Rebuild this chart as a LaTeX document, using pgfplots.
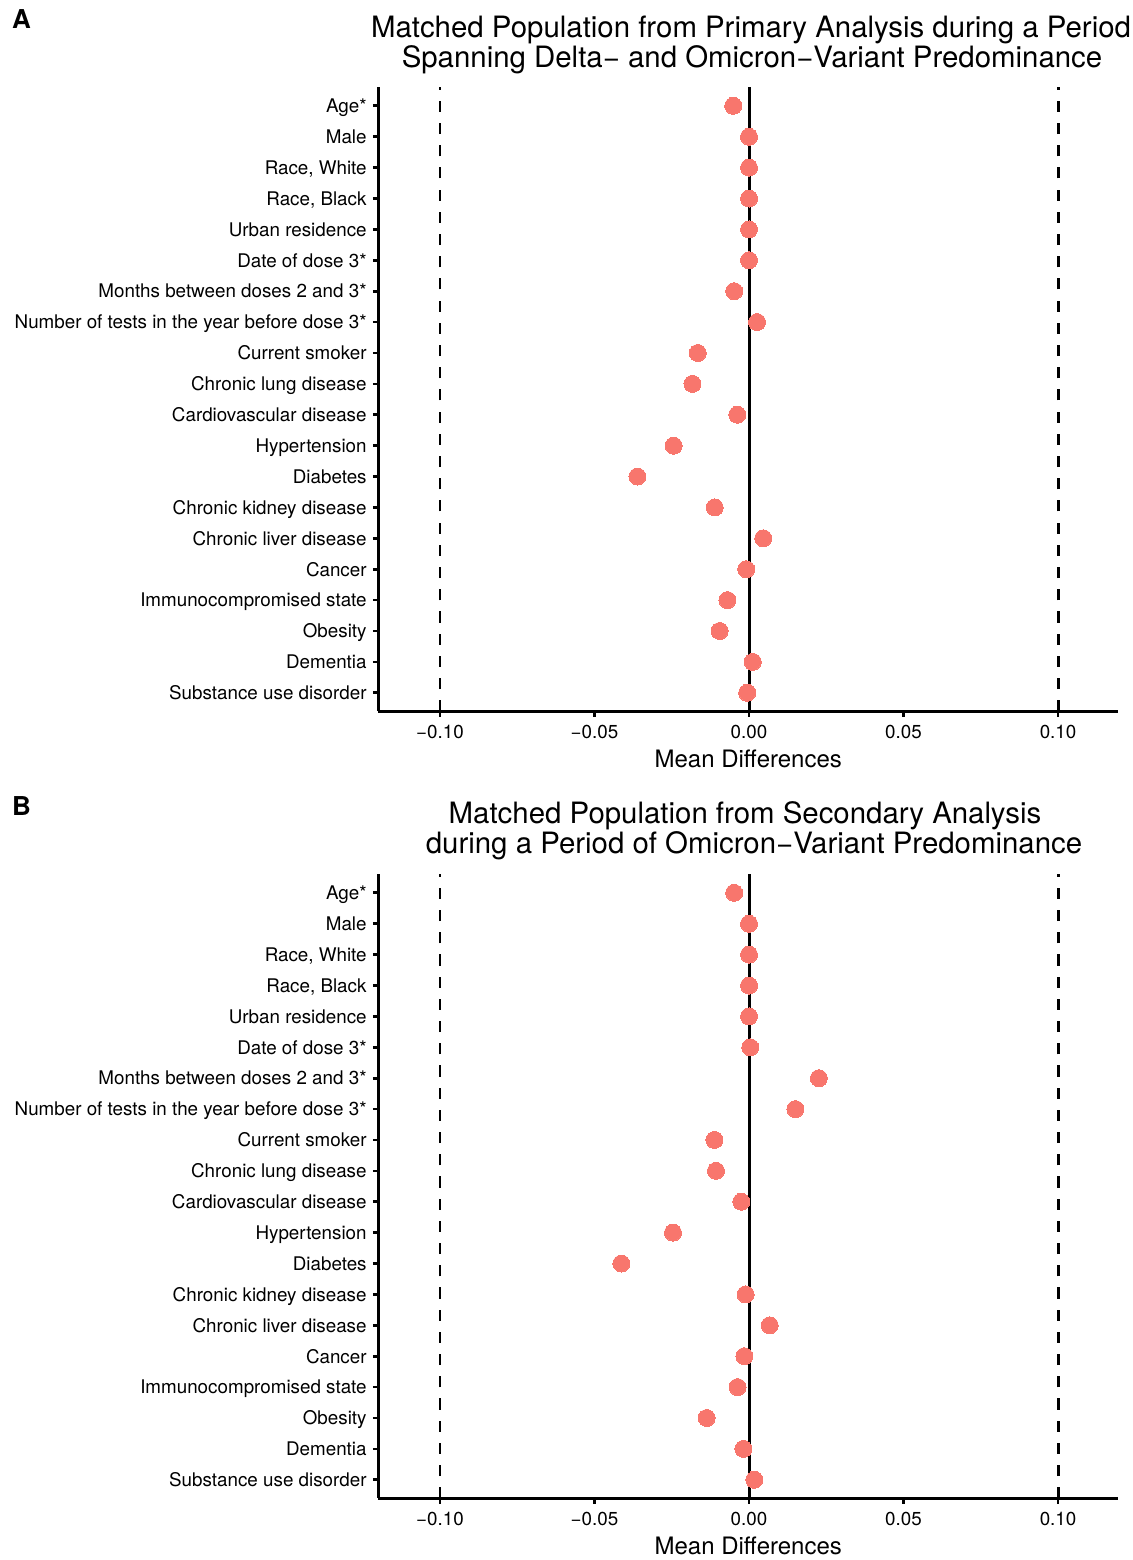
\documentclass[border=0pt]{standalone}
\usepackage{fontspec}
\setmainfont{TeX Gyre Heros}
\usepackage{pgfplots}
\usepackage{pgfplotstable}
\pgfplotsset{compat=1.18}
\definecolor{salmon}{HTML}{F8766D}

\pgfplotstableread{
idx diff
1 -0.0051
2 0.0000
3 0.0000
4 0.0000
5 0.0000
6 0.0000
7 -0.0048
8 0.0026
9 -0.0166
10 -0.0183
11 -0.0038
12 -0.0244
13 -0.0361
14 -0.0111
15 0.0046
16 -0.0009
17 -0.0070
18 -0.0095
19 0.0012
20 -0.0006
}\dataA

\pgfplotstableread{
idx diff
1 -0.0048
2 0.0000
3 0.0000
4 0.0000
5 0.0000
6 0.0004
7 0.0226
8 0.0150
9 -0.0112
10 -0.0107
11 -0.0025
12 -0.0246
13 -0.0413
14 -0.0011
15 0.0067
16 -0.0015
17 -0.0037
18 -0.0137
19 -0.0018
20 0.0017
}\dataB

\pgfplotsset{
  panel/.style={
    scale only axis, width=369.75pt, height=312pt,
    anchor=south west,
    xmin=-0.1199, xmax=0.1194, ymin=0.4, ymax=20.6, y dir=reverse,
    axis x line*=bottom, axis y line*=left,
    axis line style={line width=1.35pt, black, -},
    every tick/.style={line width=1.35pt, black},
    tick align=outside, major tick length=2.75pt,
    xtick={-0.1,-0.05,0,0.05,0.1},
    xticklabels={−0.10,−0.05,0.00,0.05,0.10},
    ytick={1,...,20},
    yticklabels={Age*,Male,{Race, White},{Race, Black},Urban residence,Date of dose 3*,Months between doses 2 and 3*,Number of tests in the year before dose 3*,Current smoker,Chronic lung disease,Cardiovascular disease,Hypertension,Diabetes,Chronic kidney disease,Chronic liver disease,Cancer,Immunocompromised state,Obesity,Dementia,Substance use disorder},
    tick label style={font=\fontsize{9.4}{11}\selectfont, text height=6.8pt, text depth=0pt, inner sep=0pt, black},
    yticklabel style={anchor=east, xshift=-3pt},
    xticklabel style={anchor=north, yshift=-3.6pt},
    xlabel={Mean Differences},
    xlabel style={font=\fontsize{12}{14}\selectfont, at={(axis description cs:0.5,0)}, anchor=base, yshift=-28.3pt},
    clip=false,
  },
  refline/.style={black, line width=1.5pt, forget plot},
  dashline/.style={black, line width=1.45pt, dash pattern=on 5.55pt off 5.55pt, forget plot},
  dots/.style={only marks, mark=*, mark size=4.25pt, mark options={fill=salmon, draw=salmon, line width=0pt}},
}

\begin{document}
\begin{tikzpicture}
\path[use as bounding box] (0,0) rectangle (566pt,780pt);

% Panel A
\begin{axis}[panel, at={(189.25pt,424.35pt)}]
\addplot[dashline] coordinates {(-0.1,20.6) (-0.1,0.4)};
\addplot[dashline] coordinates {(0.1,20.6) (0.1,0.4)};
\addplot[refline] coordinates {(0,20.6) (0,0.4)};
\addplot[dots] table[x=diff, y=idx] {\dataA};
\end{axis}

% Panel B
\begin{axis}[panel, at={(189.25pt,30.85pt)}]
\addplot[dashline] coordinates {(-0.1,20.6) (-0.1,0.4)};
\addplot[dashline] coordinates {(0.1,20.6) (0.1,0.4)};
\addplot[refline] coordinates {(0,20.6) (0,0.4)};
\addplot[dots] table[x=diff, y=idx] {\dataB};
\end{axis}

% Titles
\node[anchor=base, inner sep=0pt, font=\fontsize{14.7}{15}\selectfont] at (375.5pt,761.35pt) {Matched Population from Primary Analysis during a Period};
\node[anchor=base, inner sep=0pt, font=\fontsize{14.7}{15}\selectfont] at (376pt,746.35pt) {Spanning Delta− and Omicron−Variant Predominance};
\node[anchor=base, inner sep=0pt, font=\fontsize{14.7}{15}\selectfont] at (372.5pt,368.35pt) {Matched Population from Secondary Analysis};
\node[anchor=base, inner sep=0pt, font=\fontsize{14.7}{15}\selectfont] at (377pt,353.35pt) {during a Period of Omicron−Variant Predominance};

% Panel letters
\node[anchor=base west, inner sep=0pt, font=\bfseries\fontsize{13}{15}\selectfont] at (5.85pt,765.85pt) {A};
\node[anchor=base west, inner sep=0pt, font=\bfseries\fontsize{13}{15}\selectfont] at (5.85pt,372.35pt) {B};
\end{tikzpicture}
\end{document}
